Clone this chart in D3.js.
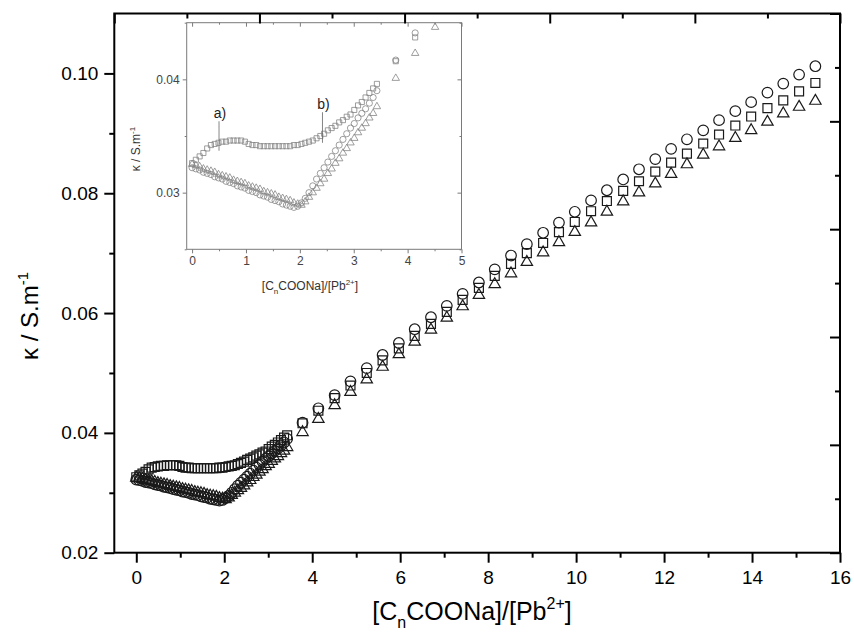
<!DOCTYPE html>
<html>
<head>
<meta charset="utf-8">
<script src="https://cdn.jsdelivr.net/npm/d3@7"></script>
<style>
  body { margin: 0; background: #ffffff; }
  svg { display: block; font-family: "Liberation Sans", Arial, sans-serif; }
</style>
</head>
<body>
<svg id="chart" width="854" height="642"></svg>
<script>
// ---- titration data: conductivity vs. molar ratio ----
// dense region (0 .. 3.43), one reading every 0.07
const denseX = [0.00,0.07,0.14,0.21,0.28,0.35,0.42,0.49,0.56,0.63,0.70,0.77,0.84,0.91,0.98,
  1.05,1.12,1.19,1.26,1.33,1.40,1.47,1.54,1.61,1.68,1.75,1.82,1.89,1.96,2.03,
  2.10,2.17,2.24,2.31,2.38,2.45,2.52,2.59,2.66,2.73,2.80,2.87,2.94,3.01,3.08,
  3.15,3.22,3.29,3.36,3.43];
const denseSquare = [0.0326,0.0329,0.0332,0.0335,0.0339,0.0342,0.0343,0.0344,0.0345,0.0345,
  0.0346,0.0346,0.0346,0.0346,0.0345,0.0343,0.0342,0.0342,0.0341,0.0341,
  0.0341,0.0341,0.0341,0.0341,0.0341,0.0341,0.0341,0.0342,0.0342,0.0343,
  0.0344,0.0345,0.0346,0.0348,0.0350,0.0352,0.0355,0.0357,0.0359,0.0362,
  0.0364,0.0367,0.0369,0.0373,0.0377,0.0380,0.0384,0.0388,0.0392,0.0396];
const denseCircle = [0.0322,0.0321,0.0320,0.0318,0.0317,0.0316,0.0314,0.0313,0.0312,0.0310,
  0.0309,0.0308,0.0306,0.0305,0.0304,0.0302,0.0301,0.0300,0.0298,0.0297,
  0.0296,0.0294,0.0293,0.0292,0.0290,0.0289,0.0288,0.0287,0.0288,0.0291,
  0.0295,0.0300,0.0306,0.0312,0.0317,0.0322,0.0327,0.0332,0.0337,0.0342,
  0.0347,0.0352,0.0357,0.0361,0.0366,0.0370,0.0374,0.0379,0.0384,0.0390];
const denseTriangle = [0.0325,0.0324,0.0323,0.0321,0.0320,0.0319,0.0318,0.0316,0.0315,0.0314,
  0.0313,0.0311,0.0310,0.0309,0.0308,0.0306,0.0305,0.0304,0.0303,0.0301,
  0.0300,0.0299,0.0298,0.0296,0.0295,0.0294,0.0293,0.0291,0.0290,0.0289,
  0.0292,0.0296,0.0300,0.0304,0.0308,0.0312,0.0317,0.0321,0.0326,0.0330,
  0.0335,0.0339,0.0344,0.0348,0.0353,0.0357,0.0361,0.0366,0.0370,0.0376];

// sparse region (3.78 .. 15.44)
const sparseX = [3.78,4.14,4.51,4.87,5.24,5.60,5.97,6.33,6.70,7.06,7.42,7.79,8.15,8.52,
  8.88,9.25,9.61,9.97,10.34,10.70,11.07,11.43,11.80,12.16,12.52,12.89,13.25,13.62,
  13.98,14.35,14.71,15.07,15.44];
const sparseCircle = [0.0417,0.0441,0.0463,0.0486,0.0508,0.0530,0.0550,0.0573,0.0593,0.0612,
  0.0632,0.0651,0.0673,0.0696,0.0715,0.0734,0.0751,0.0769,0.0788,0.0805,0.0823,
  0.0840,0.0857,0.0874,0.0890,0.0905,0.0922,0.0937,0.0952,0.0968,0.0983,0.0998,0.1012];
const sparseSquare = [0.0416,0.0437,0.0458,0.0479,0.0500,0.0521,0.0541,0.0562,0.0582,0.0602,
  0.0622,0.0642,0.0662,0.0682,0.0700,0.0717,0.0735,0.0752,0.0770,0.0787,0.0804,
  0.0820,0.0836,0.0851,0.0866,0.0883,0.0898,0.0913,0.0928,0.0942,0.0955,0.0970,0.0984];
const sparseTriangle = [0.0401,0.0423,0.0446,0.0468,0.0489,0.0510,0.0531,0.0552,0.0572,0.0592,
  0.0611,0.0630,0.0648,0.0666,0.0685,0.0701,0.0718,0.0735,0.0751,0.0769,0.0786,
  0.0801,0.0816,0.0832,0.0848,0.0864,0.0878,0.0892,0.0905,0.0919,0.0933,0.0944,0.0954];

// axis ticks
const mainXMajor = [0,2,4,6,8,10,12,14,16];
const mainXMinor = [1,3,5,7,9,11,13,15];
const mainYMajor = [0.02,0.04,0.06,0.08,0.10];
const mainYMinor = [0.03,0.05,0.07,0.09];
// top and right frame edges carry their own ten-division tick marks
const frameMajor = [0,2,4,6,8,10];
const frameMinor = [1,3,5,7,9];
const insetXMajor = [0,1,2,3,4,5];
const insetXMinor = [0.5,1.5,2.5,3.5,4.5];
const insetYMajor = [0.03,0.04];
const insetYMinor = [0.025,0.035,0.045];

// ---- drawing ----
const svg = d3.select("#chart");
const series = [
  { name: "circle",   type: d3.symbolCircle,   dense: denseCircle,   sparse: sparseCircle },
  { name: "square",   type: d3.symbolSquare,   dense: denseSquare,   sparse: sparseSquare },
  { name: "triangle", type: d3.symbolTriangle, dense: denseTriangle, sparse: sparseTriangle }
];
function points(s) {
  return denseX.map((x, i) => ({ x, y: s.dense[i] }))
    .concat(sparseX.map((x, i) => ({ x, y: s.sparse[i] })));
}

function styleAxis(g, color, width, fontSize) {
  g.select(".domain").remove();
  g.selectAll("line").attr("stroke", color).attr("stroke-width", width);
  g.selectAll("text").attr("fill", color).style("font-size", fontSize + "px")
    .style("font-family", '"Liberation Sans", Arial, sans-serif');
}

// main panel scales
const x = d3.scaleLinear().domain([-0.5, 16]).range([114.3, 840]);
const y = d3.scaleLinear().domain([0.02, 0.11]).range([552.7, 13.5]);
const xTop = d3.scaleLinear().domain([0, 10]).range(x.range());
const yRight = d3.scaleLinear().domain([0, 10]).range(y.range());

const mainSizes = { circle: 88, square: 80, triangle: 56 };
const gMain = svg.append("g");
series.forEach(s => {
  gMain.append("g").selectAll("path").data(points(s)).join("path")
    .attr("transform", d => `translate(${x(d.x)},${y(d.y)})`)
    .attr("d", d3.symbol().type(s.type).size(mainSizes[s.name]))
    .attr("fill", "none").attr("stroke", "#1a1a1a").attr("stroke-width", 1.2);
});

// ---- inset ----
const ix = d3.scaleLinear().domain([-0.1, 5]).range([186.7, 461.5]);
const iy = d3.scaleLinear().domain([0.025, 0.045]).range([249.3, 22.7]);
const insetColor = "#7a7a7a";
const gInset = svg.append("g");
gInset.append("rect")
  .attr("x", ix.range()[0]).attr("y", iy.range()[1])
  .attr("width", ix.range()[1] - ix.range()[0]).attr("height", iy.range()[0] - iy.range()[1])
  .attr("fill", "#fff").attr("stroke", insetColor).attr("stroke-width", 1);

const insetSizes = { circle: 30, square: 26, triangle: 24 };
series.forEach(s => {
  gInset.append("g").selectAll("path")
    .data(points(s).filter(d => d.x <= 5 && d.y <= 0.0450))
    .join("path")
    .attr("transform", d => `translate(${ix(d.x)},${iy(d.y)})`)
    .attr("d", d3.symbol().type(s.type).size(insetSizes[s.name]))
    .attr("fill", "none").attr("stroke", "#858585").attr("stroke-width", 0.8);
});

gInset.append("g").attr("transform", `translate(0,${iy.range()[0]})`)
  .call(d3.axisBottom(ix).tickValues(insetXMajor).tickSize(4).tickPadding(3).tickFormat(d3.format("d")))
  .call(g => styleAxis(g, insetColor, 1, 12));
gInset.append("g").attr("transform", `translate(0,${iy.range()[0]})`)
  .call(d3.axisBottom(ix).tickValues(insetXMinor).tickSize(2).tickFormat(""))
  .call(g => styleAxis(g, insetColor, 1, 12));
gInset.append("g").attr("transform", `translate(0,${iy.range()[1]})`)
  .call(d3.axisTop(ix).tickValues(insetXMajor).tickSize(-4).tickFormat(""))
  .call(g => styleAxis(g, insetColor, 1, 12));
gInset.append("g").attr("transform", `translate(0,${iy.range()[1]})`)
  .call(d3.axisTop(ix).tickValues(insetXMinor).tickSize(-2).tickFormat(""))
  .call(g => styleAxis(g, insetColor, 1, 12));
gInset.append("g").attr("transform", `translate(${ix.range()[0]},0)`)
  .call(d3.axisLeft(iy).tickValues(insetYMajor).tickSize(4).tickPadding(3).tickFormat(d3.format(".2f")))
  .call(g => styleAxis(g, insetColor, 1, 12));
gInset.append("g").attr("transform", `translate(${ix.range()[0]},0)`)
  .call(d3.axisLeft(iy).tickValues(insetYMinor).tickSize(2).tickFormat(""))
  .call(g => styleAxis(g, insetColor, 1, 12));
gInset.append("g").attr("transform", `translate(${ix.range()[1]},0)`)
  .call(d3.axisRight(iy).tickValues(insetYMajor).tickSize(-4).tickFormat(""))
  .call(g => styleAxis(g, insetColor, 1, 12));
gInset.append("g").attr("transform", `translate(${ix.range()[1]},0)`)
  .call(d3.axisRight(iy).tickValues(insetYMinor).tickSize(-2).tickFormat(""))
  .call(g => styleAxis(g, insetColor, 1, 12));
gInset.selectAll("text").attr("fill", "#444");

// annotations a) and b)
const notes = [
  { label: "a)", x: 0.50, y1: 0.0363, y2: 0.0337 },
  { label: "b)", x: 2.42, y1: 0.0371, y2: 0.0344 }
];
notes.forEach(n => {
  gInset.append("line")
    .attr("x1", ix(n.x)).attr("x2", ix(n.x))
    .attr("y1", iy(n.y1)).attr("y2", iy(n.y2))
    .attr("stroke", "#666").attr("stroke-width", 0.8);
  gInset.append("text").attr("x", ix(n.x) + 1).attr("y", iy(n.y1) - 3)
    .attr("text-anchor", "middle").style("font-size", "14px").attr("fill", "#222").text(n.label);
});

// inset titles
const ixTitle = gInset.append("text").attr("x", 310).attr("y", 290)
  .attr("text-anchor", "middle").style("font-size", "12px").attr("fill", "#333");
ixTitle.append("tspan").text("[C");
ixTitle.append("tspan").text("n").style("font-size", "8px").attr("dy", 4);
ixTitle.append("tspan").text("COONa]/[Pb").attr("dy", -4);
ixTitle.append("tspan").text("2+").style("font-size", "8px").attr("dy", -5);
ixTitle.append("tspan").text("]").attr("dy", 5);

const iyTitle = gInset.append("text")
  .attr("transform", "translate(140,149) rotate(-90)")
  .attr("text-anchor", "middle").style("font-size", "12px").attr("fill", "#333");
iyTitle.append("tspan").text("\u03BA / S.m");
iyTitle.append("tspan").text("-1").style("font-size", "8px").attr("dy", -5);

// ---- main axes (drawn last so the frame ticks sit above the inset) ----
const mainFmt = d3.format(".2f");
// bottom
svg.append("g").attr("transform", `translate(0,${y.range()[0]})`)
  .call(d3.axisBottom(x).tickValues(mainXMajor).tickSize(10).tickPadding(8).tickFormat(d3.format("d")))
  .call(g => styleAxis(g, "#000", 2, 19));
svg.append("g").attr("transform", `translate(0,${y.range()[0]})`)
  .call(d3.axisBottom(x).tickValues(mainXMinor).tickSize(5).tickFormat(""))
  .call(g => styleAxis(g, "#000", 2, 19));
// top (inward)
svg.append("g").attr("transform", `translate(0,${y.range()[1]})`)
  .call(d3.axisTop(xTop).tickValues(frameMajor).tickSize(-10).tickFormat(""))
  .call(g => styleAxis(g, "#000", 2, 19));
svg.append("g").attr("transform", `translate(0,${y.range()[1]})`)
  .call(d3.axisTop(xTop).tickValues(frameMinor).tickSize(-5).tickFormat(""))
  .call(g => styleAxis(g, "#000", 2, 19));
// left
svg.append("g").attr("transform", `translate(${x.range()[0]},0)`)
  .call(d3.axisLeft(y).tickValues(mainYMajor).tickSize(10).tickPadding(6).tickFormat(mainFmt))
  .call(g => styleAxis(g, "#000", 2, 19));
svg.append("g").attr("transform", `translate(${x.range()[0]},0)`)
  .call(d3.axisLeft(y).tickValues(mainYMinor).tickSize(5).tickFormat(""))
  .call(g => styleAxis(g, "#000", 2, 19));
// right (inward)
svg.append("g").attr("transform", `translate(${x.range()[1]},0)`)
  .call(d3.axisRight(yRight).tickValues(frameMajor).tickSize(-10).tickFormat(""))
  .call(g => styleAxis(g, "#000", 2, 19));
svg.append("g").attr("transform", `translate(${x.range()[1]},0)`)
  .call(d3.axisRight(yRight).tickValues(frameMinor).tickSize(-5).tickFormat(""))
  .call(g => styleAxis(g, "#000", 2, 19));
// frame
svg.append("rect")
  .attr("x", x.range()[0]).attr("y", y.range()[1])
  .attr("width", x.range()[1] - x.range()[0]).attr("height", y.range()[0] - y.range()[1])
  .attr("fill", "none").attr("stroke", "#000").attr("stroke-width", 2);

// main axis titles
const xTitle = svg.append("text").attr("x", 472).attr("y", 620)
  .attr("text-anchor", "middle").style("font-size", "25px").attr("fill", "#000");
xTitle.append("tspan").text("[C");
xTitle.append("tspan").text("n").style("font-size", "16px").attr("dy", 8);
xTitle.append("tspan").text("COONa]/[Pb").attr("dy", -8);
xTitle.append("tspan").text("2+").style("font-size", "16px").attr("dy", -11);
xTitle.append("tspan").text("]").attr("dy", 11);

const yTitle = svg.append("text")
  .attr("transform", "translate(38,316) rotate(-90)")
  .attr("text-anchor", "middle").style("font-size", "24px").attr("fill", "#000");
yTitle.append("tspan").text("\u03BA / S.m");
yTitle.append("tspan").text("-1").style("font-size", "15px").attr("dy", -10);
</script>
</body>
</html>
